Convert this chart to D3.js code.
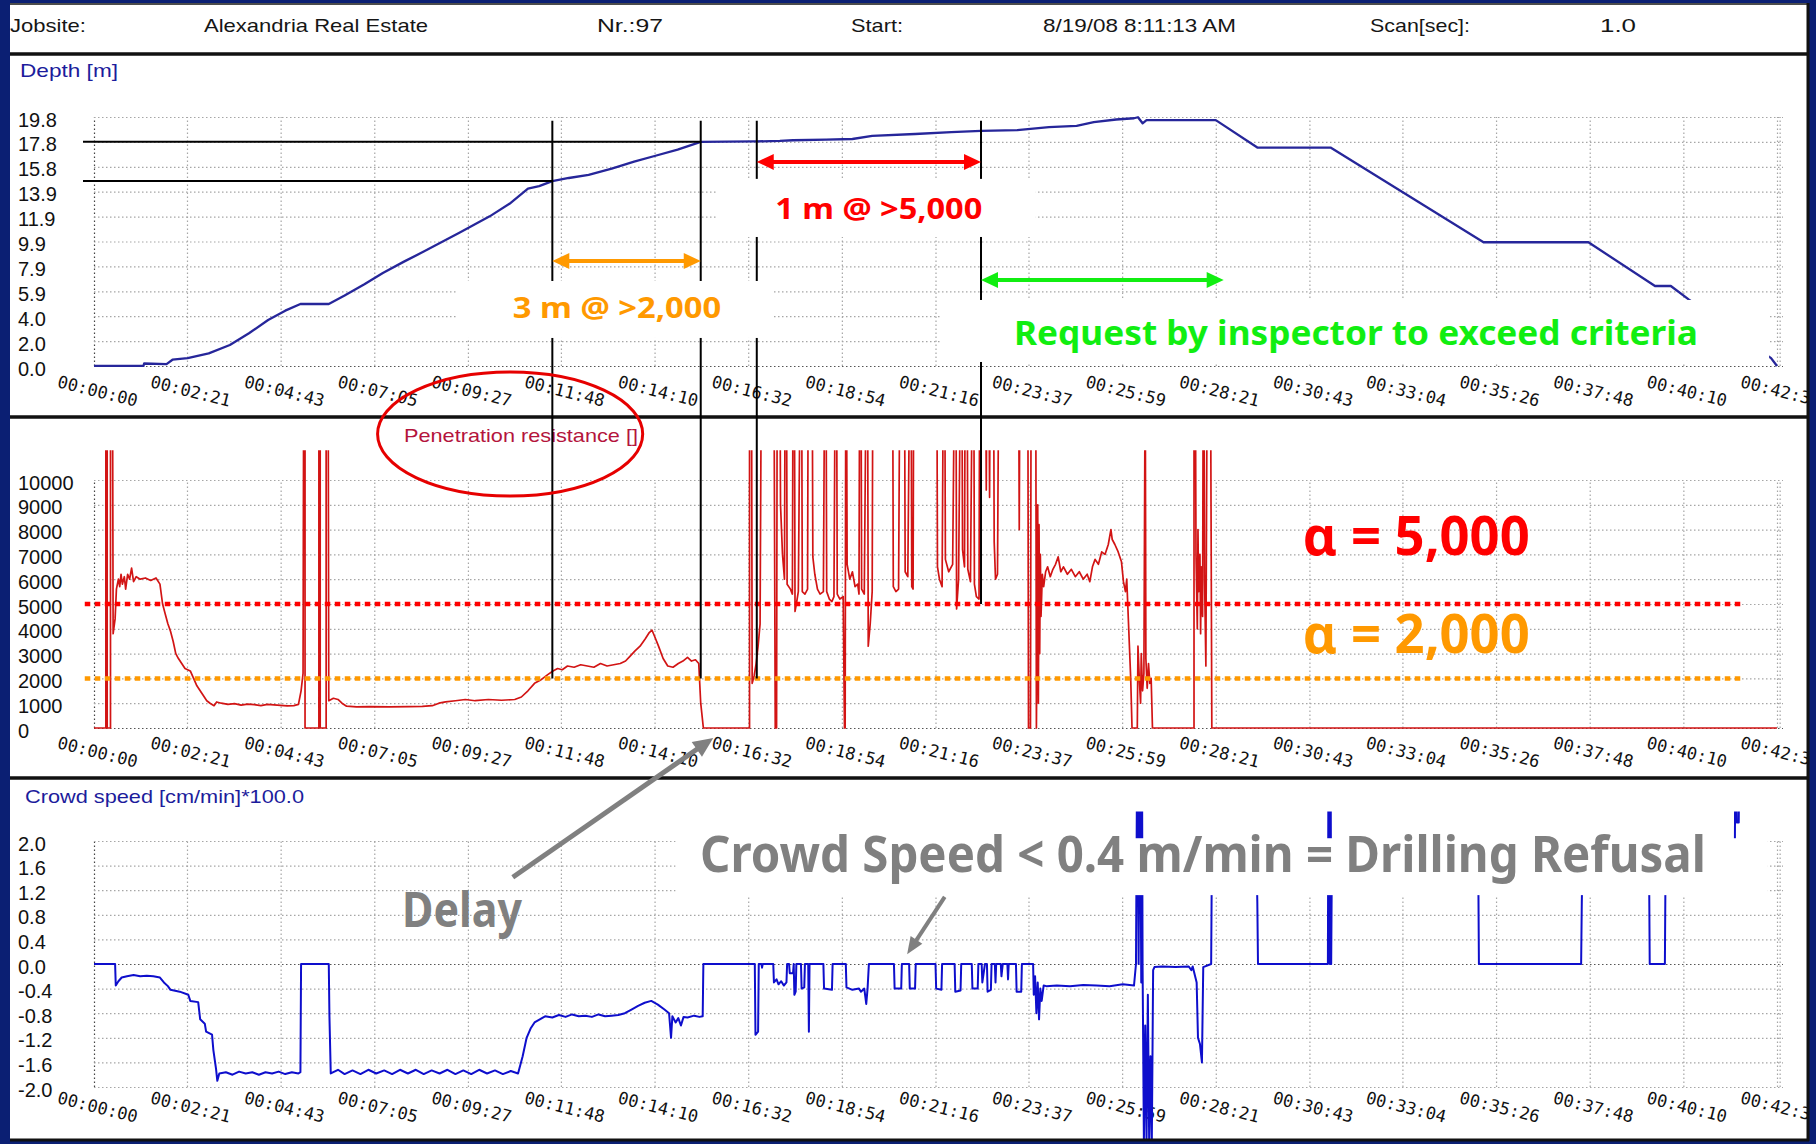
<!DOCTYPE html>
<html>
<head>
<meta charset="utf-8">
<title>Drilling log – Alexandria Real Estate Nr. 97</title>
<script src="https://cdn.jsdelivr.net/npm/d3@7/dist/d3.min.js"></script>
<style>
  html, body { margin: 0; padding: 0; background: #0b1f73; }
  svg { display: block; }
</style>
</head>
<body>
<svg id="chart" width="1816" height="1144"></svg>
<script>
// ---------- header ----------
const headerTexts = ["Jobsite:", "Alexandria Real Estate", "Nr.:97", "Start:", "8/19/08 8:11:13 AM", "Scan[sec]:", "1.0"];

// ---------- axes ----------
const timeTicks = ["00:00:00", "00:02:21", "00:04:43", "00:07:05", "00:09:27", "00:11:48", "00:14:10",
  "00:16:32", "00:18:54", "00:21:16", "00:23:37", "00:25:59", "00:28:21", "00:30:43", "00:33:04",
  "00:35:26", "00:37:48", "00:40:10", "00:42:32"];
const depthTickLabels = ["19.8", "17.8", "15.8", "13.9", "11.9", "9.9", "7.9", "5.9", "4.0", "2.0", "0.0"];
const depthTickValues = [19.8, 17.82, 15.84, 13.86, 11.88, 9.9, 7.92, 5.94, 3.96, 1.98, 0];
const resistanceTickLabels = ["10000", "9000", "8000", "7000", "6000", "5000", "4000", "3000", "2000", "1000", "0"];
const resistanceTickValues = [10000, 9000, 8000, 7000, 6000, 5000, 4000, 3000, 2000, 1000, 0];
const speedTickLabels = ["2.0", "1.6", "1.2", "0.8", "0.4", "0.0", "-0.4", "-0.8", "-1.2", "-1.6", "-2.0"];
const speedTickValues = [2.0, 1.6, 1.2, 0.8, 0.4, 0.0, -0.4, -0.8, -1.2, -1.6, -2.0];

// ---------- logged series: [seconds since start, value] ----------
const depthSeries = [[0,0],[75,0],[76,0.2],[110,0.15],[119,0.5],[142,0.63],[174,1.0],[206,1.67],[235,2.6],
  [264,3.66],[290,4.4],[313,4.93],[356,4.93],[380,5.6],[410,6.5],[438,7.4],[470,8.3],[500,9.1],[554,10.6],
  [600,11.9],[630,12.9],[658,14.1],[675,14.3],[695,14.7],[720,14.95],[750,15.2],[785,15.7],[819,16.25],
  [850,16.7],[885,17.2],[920,17.82],[960,17.84],[1005,17.86],[1040,17.9],[1060,17.95],[1110,18.0],
  [1150,18.05],[1180,18.3],[1245,18.45],[1300,18.6],[1345,18.7],[1400,18.75],[1448,19.0],[1490,19.1],
  [1516,19.4],[1550,19.6],[1577,19.7],[1583,19.78],[1590,19.3],[1596,19.55],[1701,19.55],[1764,17.37],
  [1875,17.37],[2107,9.84],[2266,9.84],[2367,6.36],[2391,6.36],[2418,5.3],[2543,0.63],[2552,0]];

// readings beyond the plotted ceiling are logged as 15000
const resistanceSeries = [[0,0],[18,0],[18,15000],[20,15000],[20,0],[25,0],[25,15000],[28,15000],[29,3800],
  [32,4400],[34,5600],[37,6000],[39,5700],[41,6200],[43,5800],[46,6100],[48,5600],[51,6200],[54,6000],
  [57,6450],[60,5900],[64,6100],[70,6000],[78,6050],[86,5950],[94,6050],[100,5800],[104,5000],[108,4600],
  [112,4200],[116,3900],[120,3500],[124,3000],[128,2800],[133,2600],[138,2400],[146,2300],[151,2000],
  [156,1700],[161,1500],[166,1300],[171,1100],[176,1000],[182,900],[186,1050],[193,1000],[203,950],
  [213,980],[223,920],[233,960],[243,940],[253,900],[263,950],[273,930],[283,910],[293,890],[303,900],
  [310,950],[314,1500],[317,2200],[318,15000],[320,15000],[320,0],[341,0],[341,15000],[343,15000],[343,0],
  [352,0],[352,15000],[355,15000],[356,1100],[363,1200],[370,1150],[376,1000],[383,880],[398,850],
  [418,860],[448,850],[478,860],[498,870],[513,900],[523,1000],[533,1050],[548,1100],[563,1150],
  [578,1100],[598,1150],[618,1120],[638,1150],[648,1250],[658,1500],[668,1800],[678,1950],[688,2150],
  [696,2300],[703,2400],[710,2350],[718,2500],[728,2450],[738,2550],[748,2500],[758,2450],[768,2600],
  [778,2500],[788,2550],[798,2600],[806,2700],[813,2900],[820,3100],[828,3300],[836,3600],[842,3850],
  [846,3950],[850,3700],[856,3300],[863,2800],[870,2500],[878,2450],[886,2600],[893,2700],[900,2850],
  [906,2700],[912,2750],[917,2600],[920,1000],[924,0],
  [994,0],[994,15000],[997,15000],[998,1800],[1001,2100],[1004,2600],[1007,3300],[1010,4200],[1012,15000],
  [1031,15000],[1033,0],[1035,0],[1036,15000],[1040,15000],[1041,9000],[1044,7000],[1047,6000],[1048,15000],
  [1050,15000],[1051,5800],[1056,5600],[1059,5400],[1060,15000],[1062,15000],[1063,4700],[1065,5000],
  [1068,5500],[1071,15000],[1073,15000],[1074,5500],[1078,5400],[1082,5600],[1083,15000],[1089,15000],
  [1090,6900],[1093,6200],[1097,5600],[1101,5400],[1106,5500],[1108,15000],[1110,15000],[1111,5500],
  [1115,5200],[1119,5100],[1122,5300],[1124,15000],[1126,15000],[1127,5400],[1131,5200],[1136,5300],
  [1138,0],[1139,0],[1140,15000],[1141,15000],[1142,6600],[1146,6000],[1150,6300],[1154,5700],[1158,5800],
  [1160,5400],[1161,15000],[1163,15000],[1164,5600],[1168,5400],[1171,15000],[1173,15000],[1174,3300],
  [1177,4200],[1180,5500],[1181,15000],[1211,15000],[1212,5700],[1216,5500],[1220,5600],[1222,15000],
  [1229,15000],[1230,6300],[1234,6100],[1237,15000],[1239,15000],[1240,5700],[1242,5600],[1243,15000],
  [1278,15000],[1279,6500],[1282,6000],[1286,5700],[1288,15000],[1290,15000],[1291,6800],[1296,6300],
  [1302,6600],[1305,15000],[1307,15000],[1308,4800],[1311,6000],[1314,15000],[1316,15000],[1317,7200],
  [1320,6500],[1321,15000],[1324,15000],[1325,6400],[1329,5900],[1332,15000],[1334,15000],[1335,5800],
  [1338,5300],[1342,5200],[1343,15000],[1352,15000],[1353,9600],[1354,15000],[1357,15000],[1358,9300],
  [1359,15000],[1364,15000],[1365,7500],[1367,6000],[1370,6200],[1372,15000],[1402,15000],[1403,8000],
  [1404,15000],[1416,15000],[1417,0],[1420,0],[1421,15000],[1428,15000],[1429,0],[1430,4000],[1431,9000],
  [1432,1000],[1433,8200],[1434,3000],[1435,7000],[1436,4500],[1438,6200],[1440,5700],[1443,6300],
  [1446,6500],[1450,6100],[1454,6400],[1458,6600],[1462,6900],[1466,6300],[1470,6500],[1476,6200],
  [1482,6400],[1488,6100],[1494,6300],[1500,6000],[1506,6200],[1510,5900],[1514,6500],[1518,6800],
  [1523,6600],[1528,7100],[1533,7000],[1538,7400],[1542,8000],[1544,7600],[1548,7400],[1553,7100],
  [1558,6700],[1561,5900],[1564,5500],[1566,6000],[1569,4000],[1572,2000],[1574,0],[1582,0],[1583,3300],
  [1585,2000],[1587,1000],[1588,3000],[1590,1500],[1592,2200],[1594,15000],[1595,2800],[1597,1600],
  [1599,2600],[1601,1800],[1603,2000],[1605,0],[1668,0],[1668,15000],[1670,15000],[1671,7000],[1673,4000],
  [1674,8000],[1675,5500],[1677,7000],[1678,3800],[1679,6500],[1681,4500],[1682,15000],[1683,15000],
  [1684,6000],[1686,2500],[1688,15000],[1693,15000],[1695,0],[2552,0]];

// crowd speed while retracting; readings beyond the plotted ceiling are logged as 4.0
const speedSeries = [[0,0],[32,0],[33,-0.35],[37,-0.28],[42,-0.22],[50,-0.2],[60,-0.18],[70,-0.2],[80,-0.19],
  [90,-0.2],[100,-0.22],[106,-0.3],[112,-0.36],[116,-0.42],[130,-0.45],[143,-0.5],[146,-0.6],[158,-0.62],
  [161,-0.9],[168,-0.97],[170,-1.1],[179,-1.15],[181,-1.4],[185,-1.7],[187,-1.9],[190,-1.78],[200,-1.76],
  [210,-1.8],[220,-1.75],[230,-1.78],[240,-1.76],[250,-1.8],[260,-1.76],[270,-1.78],[280,-1.75],
  [290,-1.79],[300,-1.76],[310,-1.78],[313,-1.76],[314,0],[356,0],[357,-0.85],[359,-1.78],[370,-1.72],
  [380,-1.79],[392,-1.73],[404,-1.79],[416,-1.72],[428,-1.78],[440,-1.73],[452,-1.79],[464,-1.72],
  [476,-1.78],[488,-1.72],[500,-1.79],[512,-1.73],[524,-1.78],[536,-1.72],[548,-1.79],[560,-1.73],
  [572,-1.79],[584,-1.72],[596,-1.78],[608,-1.73],[620,-1.79],[632,-1.74],[643,-1.78],[650,-1.5],
  [656,-1.2],[662,-1.05],[668,-0.95],[676,-0.9],[684,-0.85],[695,-0.87],[705,-0.83],[715,-0.86],
  [725,-0.82],[735,-0.85],[745,-0.84],[755,-0.86],[765,-0.82],[775,-0.85],[785,-0.84],[795,-0.83],
  [805,-0.8],[815,-0.74],[825,-0.68],[835,-0.63],[845,-0.6],[855,-0.66],[865,-0.74],[872,-0.8],[875,-1.2],
  [877,-0.85],[882,-0.95],[886,-0.88],[890,-1.0],[894,-0.86],[900,-0.87],[910,-0.84],[918,-0.86],
  [923,-0.85],[924,0],[1002,0],[1003,-1.15],[1007,-1.1],[1008,0],[1012,0],[1013,-0.06],[1014,0],[1030,0],
  [1031,-0.3],[1035,-0.25],[1038,-0.33],[1042,-0.28],[1046,-0.35],[1050,-0.3],[1051,0],[1054,0],
  [1055,-0.15],[1060,-0.15],[1061,0],[1062,-0.5],[1064,-0.45],[1065,0],[1072,0],[1073,-0.4],[1077,-0.38],
  [1078,0],[1083,0],[1084,-1.1],[1085,0],[1106,0],[1107,-0.4],[1119,-0.42],[1120,0],[1140,0],[1141,-0.38],
  [1150,-0.42],[1160,-0.4],[1163,-0.45],[1168,-0.4],[1171,-0.65],[1173,-0.4],[1175,0],[1213,0],[1214,-0.4],
  [1224,-0.4],[1225,0],[1236,0],[1237,-0.4],[1245,-0.4],[1246,0],[1276,0],[1277,-0.4],[1285,-0.42],
  [1286,0],[1305,0],[1306,-0.45],[1314,-0.43],[1315,0],[1331,0],[1332,-0.4],[1340,-0.4],[1341,0],[1346,0],
  [1347,-0.3],[1351,0],[1354,0],[1355,-0.45],[1360,-0.42],[1361,0],[1366,0],[1367,-0.3],[1368,0],[1375,0],
  [1376,-0.2],[1378,0],[1385,0],[1386,-0.25],[1387,0],[1398,0],[1399,-0.45],[1406,-0.45],[1407,0],
  [1424,0],[1425,-0.5],[1427,-0.2],[1429,-0.8],[1431,-0.3],[1433,-0.9],[1435,-0.4],[1437,-0.6],
  [1440,-0.35],[1444,-0.36],[1460,-0.35],[1480,-0.36],[1500,-0.34],[1520,-0.35],[1540,-0.36],
  [1560,-0.33],[1577,-0.35],[1580,0],[1582,4],[1584,0],[1586,4],[1588,-0.3],[1589,4],[1590,0],[1592,-2.9],
  [1594,-1.0],[1596,-2.9],[1598,-0.5],[1600,-2.9],[1602,-1.5],[1604,-2.9],[1606,-0.1],[1608,-0.05],
  [1620,-0.04],[1640,-0.05],[1660,-0.04],[1664,-0.1],[1666,-0.04],[1672,-0.3],[1674,-1.2],[1677,-1.3],
  [1680,-1.6],[1682,-0.05],[1694,0],[1695,1.6],[1763,1.6],[1764,1.0],[1765,0],[1871,0],[1872,4],[1874,0],
  [1875,4],[1876,0],[1877,1.6],[2099,1.6],[2100,0],[2255,0],[2256,1.0],[2257,1.6],[2358,1.6],[2359,0],
  [2382,0],[2383,1.6],[2488,1.6],[2489,4],[2491,2.3],[2494,2.3],[2495,4],[2552,4]];

// acceptance criteria and marked intervals
const criteria = [5000, 2000];
const markerTimes = [695, 920, 1005, 1345];
const markerDepths = [17.84, 14.72];

// ---------- drawing ----------
const W = 1816, H = 1144;
const uiFont = "'Liberation Sans', Arial, sans-serif";
const tickFont = "'DejaVu Sans Mono', monospace";
const noteFont = "'Comic Sans MS', 'Noto Sans', 'Open Sans', sans-serif";

const toSec = s => { const [h, m, sec] = s.split(":").map(Number); return h * 3600 + m * 60 + sec; };
const tickSecs = timeTicks.map(toSec);

const svg = d3.select("#chart");
const defs = svg.append("defs");

svg.append("rect").attr("width", W).attr("height", H).attr("fill", "#0b1f73");
svg.append("rect").attr("x", 10).attr("y", 3).attr("width", 1799).attr("height", 1138).attr("fill", "#fff");

const x = d3.scaleLinear().domain([0, 2552]).range([94, 1777]);
const yDepth = d3.scaleLinear().domain([0, 19.8]).range([366, 117]);
const yRes = d3.scaleLinear().domain([0, 10000]).range([728, 480]);
const ySpeed = d3.scaleLinear().domain([-2, 2]).range([1087, 841]);

// header row
const headerSpans = [[10, 86], [204, 428], [597, 663], [851, 903], [1043, 1236], [1370, 1470], [1600, 1636]];
svg.append("g").selectAll("text").data(headerTexts).join("text")
  .attr("x", (d, i) => headerSpans[i][0]).attr("y", 32)
  .attr("textLength", (d, i) => headerSpans[i][1] - headerSpans[i][0])
  .attr("lengthAdjust", "spacingAndGlyphs")
  .style("font", `19px ${uiFont}`).attr("fill", "#161616").text(d => d);

const panels = [
  { key: "depth", top: 54, bottom: 417, y: yDepth, vals: depthTickValues, labels: depthTickLabels,
    drop: 21, clipTop: 100, clipBottom: 367, title: "Depth [m]", titleX: [20, 118], titleY: 77, titleColor: "#1c1c9c" },
  { key: "res", top: 417, bottom: 778, y: yRes, vals: resistanceTickValues, labels: resistanceTickLabels,
    drop: 20, clipTop: yRes(11200), clipBottom: 730, title: "Penetration resistance []", titleX: [404, 638], titleY: 442, titleColor: "#b4143c" },
  { key: "speed", top: 778, bottom: 1140, y: ySpeed, vals: speedTickValues, labels: speedTickLabels,
    drop: 16, clipTop: ySpeed(2.48), clipBottom: 1140, title: "Crowd speed [cm/min]*100.0", titleX: [25, 304], titleY: 803, titleColor: "#1c1c9c" }
];

const [x0, x1] = x.range();
panels.forEach(p => {
  defs.append("clipPath").attr("id", `panel-${p.key}`)
    .append("rect").attr("x", 10).attr("y", p.top).attr("width", 1797).attr("height", p.bottom - p.top);
  defs.append("clipPath").attr("id", `plot-${p.key}`)
    .append("rect").attr("x", x0 - 1).attr("y", p.clipTop).attr("width", x1 - x0 + 4).attr("height", p.clipBottom - p.clipTop);

  const g = svg.append("g").attr("clip-path", `url(#panel-${p.key})`);
  const [yb, yt] = p.y.range();

  // dotted grid
  g.append("g").attr("transform", `translate(0,${yb})`)
    .call(d3.axisBottom(x).tickValues(tickSecs.concat([2552 + 4])).tickSize(-(yb - yt)).tickFormat(""))
    .call(a => {
      a.select(".domain").remove();
      a.selectAll("line").attr("stroke", (d, i) => i === 0 ? "#444" : "#a6a6a6")
        .attr("stroke-width", 1.2).attr("stroke-dasharray", "1.5,2.5");
    });
  g.append("g").attr("transform", `translate(${x0},0)`)
    .call(d3.axisLeft(p.y).tickValues(p.vals).tickSize(-(x1 - x0 + 6)).tickFormat(""))
    .call(a => {
      a.select(".domain").remove();
      a.selectAll("line").attr("stroke", d => d === 0 ? "#555" : "#a6a6a6")
        .attr("stroke-width", 1.2).attr("stroke-dasharray", "1.5,2.5");
    });

  // y labels
  g.append("g")
    .call(d3.axisLeft(p.y).tickValues(p.vals).tickFormat((d, i) => p.labels[i]).tickSize(0))
    .call(a => {
      a.select(".domain").remove();
      a.selectAll("text").attr("x", 18).attr("dy", "0.45em").attr("text-anchor", "start")
        .attr("fill", "#111").style("font", `20px ${uiFont}`);
    });

  // time labels (the last one runs into the panel edge)
  g.append("g").attr("transform", `translate(0,${yb})`)
    .call(d3.axisBottom(x).tickValues(tickSecs).tickFormat((d, i) => timeTicks[i]).tickSize(0))
    .call(a => {
      a.select(".domain").remove();
      a.selectAll("text").attr("y", null).attr("dy", null).attr("text-anchor", "start")
        .attr("transform", `translate(-38,${p.drop}) rotate(14)`)
        .attr("fill", "#111").style("font", `17px ${tickFont}`);
    });

  g.append("text").attr("x", p.titleX[0]).attr("y", p.titleY)
    .attr("textLength", p.titleX[1] - p.titleX[0]).attr("lengthAdjust", "spacingAndGlyphs")
    .style("font", `19px ${uiFont}`).attr("fill", p.titleColor).text(p.title);
});

// series
const plotLine = (series, y, key, color, width) =>
  svg.append("path").datum(series).attr("clip-path", `url(#plot-${key})`)
    .attr("d", d3.line().x(d => x(d[0])).y(d => y(d[1])))
    .attr("fill", "none").attr("stroke", color).attr("stroke-width", width).attr("stroke-linejoin", "round");

plotLine(depthSeries, yDepth, "depth", "#26269a", 2.3);
plotLine(resistanceSeries, yRes, "res", "#d21414", 1.7);
plotLine(speedSeries, ySpeed, "speed", "#0e0ecc", 2);

// criteria lines
const criteriaColors = ["#ff0000", "#ff9900"];
svg.append("g").selectAll("line").data(criteria).join("line")
  .attr("x1", x(-14)).attr("x2", x(2500))
  .attr("y1", d => yRes(d)).attr("y2", d => yRes(d))
  .attr("stroke", (d, i) => criteriaColors[i]).attr("stroke-width", 4.5).attr("stroke-dasharray", "5.5,4.5");

// panel frames
const frame = svg.append("g").attr("stroke", "#111");
[[4, 1.5], [54, 3.5], [417, 3.5], [778, 3.5], [1140, 3]].forEach(([yy, w]) =>
  frame.append("line").attr("x1", 10).attr("x2", 1809).attr("y1", yy).attr("y2", yy).attr("stroke-width", w));
frame.append("line").attr("x1", 1808).attr("x2", 1808).attr("y1", 3).attr("y2", 1141).attr("stroke-width", 3);

// interval markers
const ann = svg.append("g").attr("stroke", "#000").attr("stroke-width", 2);
const markerEnds = [yRes(2000), yRes(2000), yRes(2000), yRes(5000)];
markerTimes.forEach((t, i) =>
  ann.append("line").attr("x1", x(t)).attr("x2", x(t)).attr("y1", yDepth(19.5)).attr("y2", markerEnds[i]));
ann.append("line").attr("x1", x0 - 11).attr("x2", x(markerTimes[1]))
  .attr("y1", yDepth(markerDepths[0])).attr("y2", yDepth(markerDepths[0]));
ann.append("line").attr("x1", x0 - 11).attr("x2", x(markerTimes[0]))
  .attr("y1", yDepth(markerDepths[1])).attr("y2", yDepth(markerDepths[1]));

// white label backings
const boxes = [
  { y: yDepth, t: [946, 1428], v: [14.88, 10.26] },
  { y: yDepth, t: [550, 1031], v: [6.76, 2.23] },
  { y: yDepth, t: [1284, 2540], v: [5.25, 0.32] },
  { y: ySpeed, t: [882, 2538], v: [2.045, 1.12] }
];
svg.append("g").selectAll("rect").data(boxes).join("rect")
  .attr("x", d => x(d.t[0])).attr("width", d => x(d.t[1]) - x(d.t[0]))
  .attr("y", d => d.y(d.v[0])).attr("height", d => d.y(d.v[1]) - d.y(d.v[0]))
  .attr("fill", "#fff");

// arrows
function arrow(x1, y1, x2, y2, color, width, headLen, headHalf, both) {
  const g = svg.append("g");
  const ang = Math.atan2(y2 - y1, x2 - x1);
  const ux = Math.cos(ang), uy = Math.sin(ang);
  const sx = both ? x1 + ux * headLen * 0.8 : x1, sy = both ? y1 + uy * headLen * 0.8 : y1;
  g.append("line").attr("x1", sx).attr("y1", sy).attr("x2", x2 - ux * headLen * 0.8).attr("y2", y2 - uy * headLen * 0.8)
    .attr("stroke", color).attr("stroke-width", width);
  const head = (tx, ty, dx, dy) => {
    const bx = tx - dx * headLen, by = ty - dy * headLen;
    g.append("path").attr("d", `M${tx},${ty}L${bx - dy * headHalf},${by + dx * headHalf}L${bx + dy * headHalf},${by - dx * headHalf}Z`)
      .attr("fill", color);
  };
  head(x2, y2, ux, uy);
  if (both) head(x1, y1, -ux, -uy);
}
arrow(x(markerTimes[2]), yDepth(16.23), x(markerTimes[3]), yDepth(16.23), "#ff0000", 4, 17, 8, true);
arrow(x(markerTimes[0]), yDepth(8.35), x(markerTimes[1]), yDepth(8.35), "#ff9900", 4, 17, 8, true);
arrow(x(markerTimes[3]), yDepth(6.84), x(1713), yDepth(6.84), "#11ee11", 4, 17, 8, true);
arrow(x(635), ySpeed(1.41), x(939), yRes(-400), "#808080", 5, 20, 9, false);
arrow(x(1290), ySpeed(1.09), x(1233), ySpeed(0.16), "#808080", 4, 17, 7, false);

// notes
const notes = [
  { text: "1 m @ >5,000", y: yDepth, t: [1033, 1347], v: 11.69, size: 28, color: "#ff0000" },
  { text: "3 m @ >2,000", y: yDepth, t: [635, 951], v: 3.82, size: 28, color: "#ff9900" },
  { text: "Request by inspector to exceed criteria", y: yDepth, t: [1395, 2432], v: 1.67, size: 34, color: "#11ee11" },
  { text: "α = 5,000", y: yRes, t: [1833, 2177], v: 6975, size: 54, color: "#ff0000" },
  { text: "α = 2,000", y: yRes, t: [1833, 2177], v: 3024, size: 54, color: "#ff9900" },
  { text: "Delay", y: ySpeed, t: [467, 649], v: 0.6, size: 48, color: "#808080" },
  { text: "Crowd Speed < 0.4 m/min = Drilling Refusal", y: ySpeed, t: [919, 2444], v: 1.49, size: 50, color: "#808080" }
];
svg.append("g").selectAll("text").data(notes).join("text")
  .attr("x", d => x(d.t[0])).attr("y", d => d.y(d.v))
  .attr("textLength", d => x(d.t[1]) - x(d.t[0])).attr("lengthAdjust", "spacingAndGlyphs")
  .style("font-family", noteFont).style("font-weight", 700).style("font-size", d => `${d.size}px`)
  .attr("fill", d => d.color).text(d => d.text);

// highlight ring round the resistance title
svg.append("ellipse").attr("cx", x(631)).attr("cy", yRes(11855))
  .attr("rx", x(631 + 201) - x(631)).attr("ry", 62)
  .attr("fill", "none").attr("stroke", "#e60000").attr("stroke-width", 3);
</script>
</body>
</html>
